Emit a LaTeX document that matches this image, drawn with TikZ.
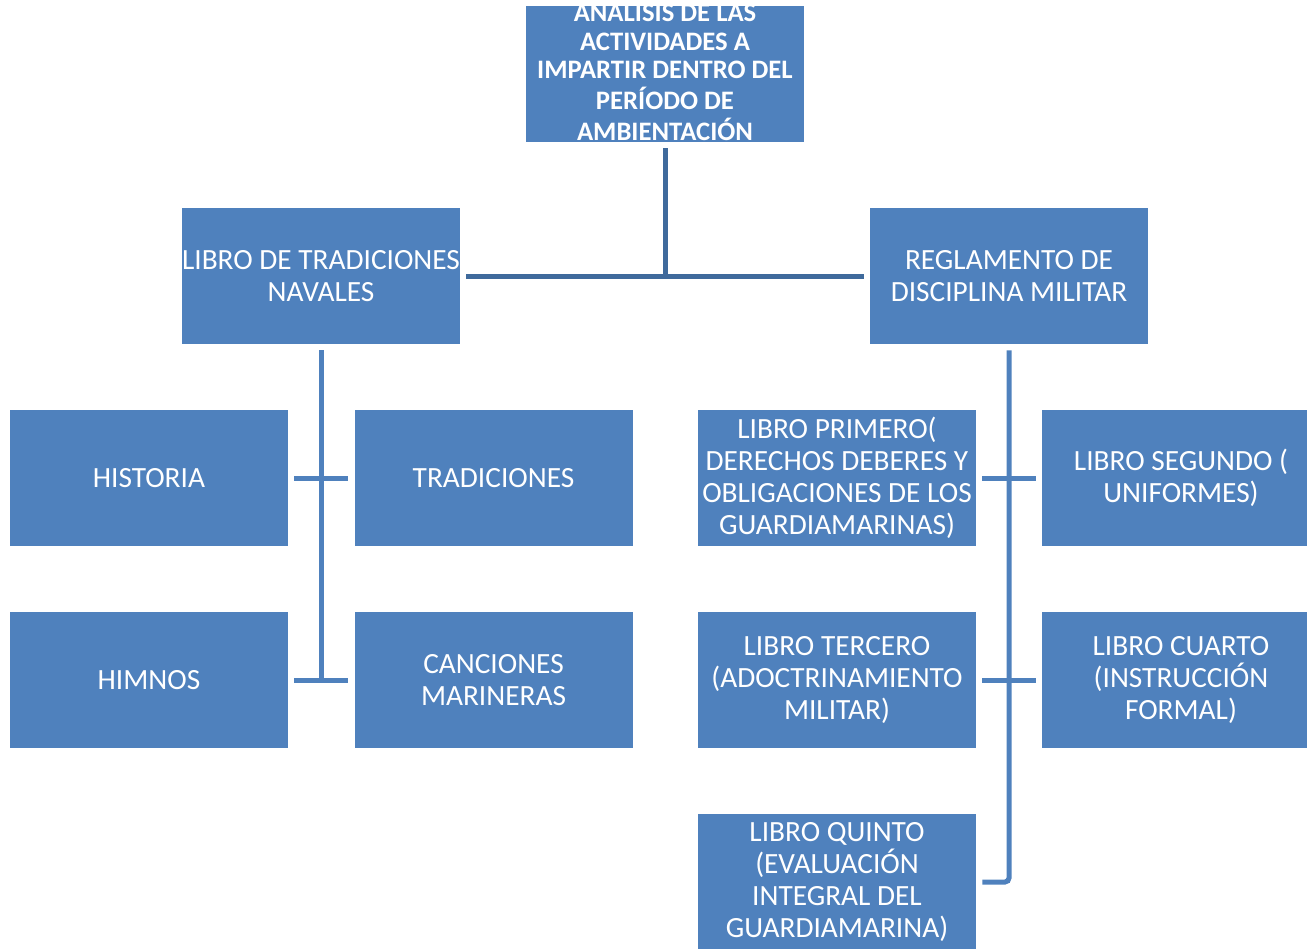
\documentclass[tikz,border=0pt]{standalone}
\usepackage{fontspec}
\setmainfont{Carlito}
\definecolor{boxblue}{HTML}{4F81BD}
\definecolor{darkline}{HTML}{3F6A9C}
\begin{document}
\begin{tikzpicture}[x=0.75pt,y=-0.75pt,
  box/.style={fill=boxblue, draw=none, minimum width=208.5pt, minimum height=102pt,
    inner sep=0pt, text=white, align=center, font=\fontsize{22}{24}\selectfont},
  topbox/.style={box, font=\bfseries\fontsize{20}{21.56}\selectfont},
  conn/.style={draw=boxblue, line width=3.75pt},
  darkconn/.style={draw=darkline, line width=3.75pt},
  gap/.style={shorten <=4.5pt, shorten >=4.5pt}]
\useasboundingbox (0,0) rectangle (1307,949);
% nodes
\node[topbox] (top) at (665,74) {\vbox to 0pt{\vss\vskip 2pt\hbox{\begin{tabular}{@{}c@{}}ANALISIS DE LAS\\ACTIVIDADES A\\IMPARTIR DENTRO DEL\\PERÍODO DE\\AMBIENTACIÓN\end{tabular}}\vss}};
\node[box] (lib) at (321,276) {LIBRO DE TRADICIONES\\NAVALES};
\node[box] (reg) at (1009,276) {REGLAMENTO DE\\DISCIPLINA MILITAR};
\node[box] (hist) at (149,478) {HISTORIA};
\node[box] (trad) at (493.5,478) {TRADICIONES};
\node[box] (himn) at (149,680) {HIMNOS};
\node[box] (canc) at (493.5,680) {CANCIONES\\MARINERAS};
\node[box] (prim) at (837,478) {LIBRO PRIMERO(\\DERECHOS DEBERES Y\\OBLIGACIONES DE LOS\\GUARDIAMARINAS)};
\node[box] (segu) at (1181,478) {LIBRO SEGUNDO (\\UNIFORMES)};
\node[box] (terc) at (837,680) {LIBRO TERCERO\\(ADOCTRINAMIENTO\\MILITAR)};
\node[box] (cuar) at (1181,680) {LIBRO CUARTO\\(INSTRUCCIÓN\\FORMAL)};
\node[box] (quin) at (837,882) {LIBRO QUINTO\\(EVALUACIÓN\\INTEGRAL DEL\\GUARDIAMARINA)};
% connectors
\coordinate (j0) at (665,276);
\draw[darkconn, shorten <=4.5pt] (top) -- (j0);
\draw[darkconn, gap] (lib) -- (reg);
\draw[conn, shorten <=4.5pt] (lib) -- (lib |- himn);
\draw[conn, gap] (hist) -- (trad);
\draw[conn, gap] (himn) -- (canc);
\draw[conn, gap, rounded corners=3pt] (reg) -- (reg |- quin) -- (quin);
\draw[conn, gap] (prim) -- (segu);
\draw[conn, gap] (terc) -- (cuar);
\end{tikzpicture}
\end{document}
